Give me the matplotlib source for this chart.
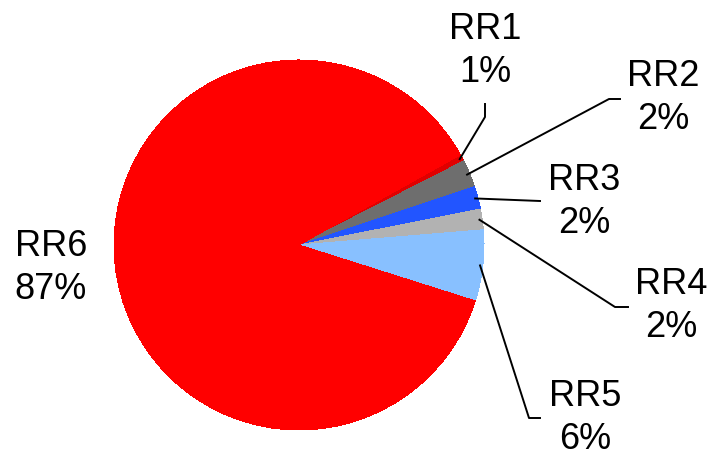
import numpy as np
from matplotlib import pyplot as plt

plt.rcParams["font.family"] = ["Liberation Sans", "DejaVu Sans"]

labels = ["RR1", "RR2", "RR3", "RR4", "RR5", "RR6"]
shares = [0.6, 2.4, 2.0, 1.8, 6.2, 87.0]
colors = ["#E00000", "#6E6E6E", "#2255FF", "#B2B2B2", "#88C0FF", "#FF0000"]

W, H = 713, 461
CX, CY, R = 299, 245, 185  # pie centre and radius in pixels


def px(x, y):
    # pixel position (from top-left) -> data units of the pie
    return (x - CX) / R, (CY - y) / R


fig = plt.figure(figsize=(W / 100, H / 100), dpi=100)
ax = fig.add_axes([0, 0, 1, 1])

start = 29.2
wedges, _ = ax.pie(shares, colors=colors, startangle=start, counterclock=False,
                   radius=1.0, center=(0, 0), frame=True)
ax.set_aspect("equal")
ax.set_xlim(-CX / R, (W - CX) / R)
ax.set_ylim(-(H - CY) / R, CY / R)
ax.axis("off")
for w in wedges:
    w.set_antialiased(False)

# label block centres and leader elbows, in pixels
label_pos = {
    "RR1": (485, 51), "RR2": (663, 98), "RR3": (584, 202),
    "RR4": (671, 306), "RR5": (585, 418), "RR6": (51, 268),
}
elbows = {
    "RR1": [(485, 117), (485, 104)],
    "RR2": [(609, 99), (620, 99)],
    "RR3": [(540, 201)],
    "RR4": [(615, 307), (628, 307)],
    "RR5": [(529, 418), (540, 418)],
}

total = sum(shares)
for w, name, val in zip(wedges, labels, shares):
    tx, ty = px(*label_pos[name])
    ax.text(tx, ty, f"{name}\n{val / total * 100:.0f}%", ha="center", va="center",
            fontsize=26, linespacing=1.32)
    if name in elbows:
        mid = np.deg2rad((w.theta1 + w.theta2) / 2)
        xs = [0.985 * np.cos(mid)] + [px(*p)[0] for p in elbows[name]]
        ys = [0.985 * np.sin(mid)] + [px(*p)[1] for p in elbows[name]]
        ax.plot(xs, ys, color="black", lw=1.4)

fig.savefig("out.png", dpi=100)
